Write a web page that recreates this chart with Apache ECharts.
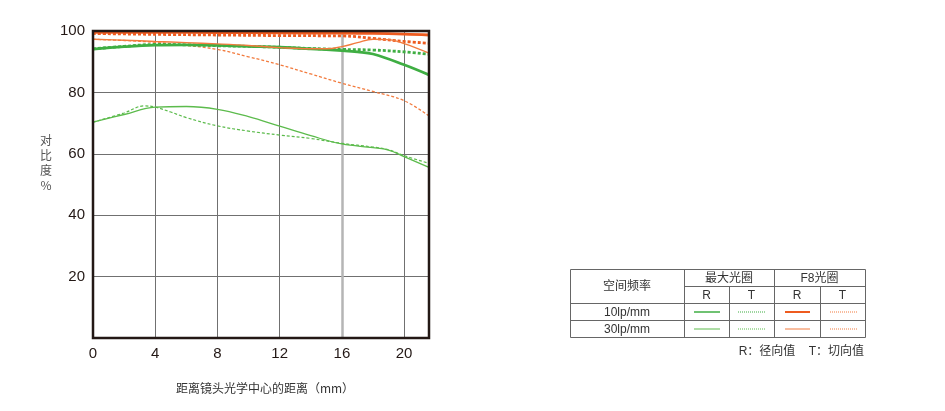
<!DOCTYPE html>
<html><head><meta charset="utf-8">
<script src="https://cdn.jsdelivr.net/npm/echarts@6/dist/echarts.min.js"></script>
<style>html,body{margin:0;padding:0;background:#fff}#c{width:945px;height:411px}</style>
</head><body><div id="c"></div>
<script>
// distance from centre (mm)
const xTicks = [0, 4, 8, 12, 16, 20];
const yTicks = [0, 20, 40, 60, 80, 100];

const xMaxR10 = [0, 2, 4, 6, 8, 10, 12, 14, 16, 17, 18, 20, 21.6];
const maxR10  = [94.1, 94.9, 95.4, 95.5, 95.3, 95.0, 94.7, 94.2, 93.6, 93.2, 92.5, 89.0, 85.7];
const xMaxT10 = [0, 2, 4, 6, 8, 10, 12, 14, 16, 18, 20, 21.6];
const maxT10  = [94.2, 95.0, 95.6, 95.5, 95.2, 95.0, 94.7, 94.3, 94.0, 93.8, 93.2, 92.4];

const xF8R10 = [0, 4, 8, 12, 16, 18, 20, 21.6];
const f8R10  = [99.6, 99.6, 99.5, 99.4, 99.3, 99.2, 99.0, 98.7];
const xF8T10 = [0, 4, 8, 12, 16, 18, 20, 21.6];
const f8T10  = [99.2, 98.9, 98.7, 98.5, 98.4, 97.6, 96.6, 96.0];

const xMaxR30 = [0, 2, 4, 6, 8, 10, 12, 14, 16, 18, 19, 20, 21.6];
const maxR30  = [70.3, 72.8, 75.2, 75.4, 74.5, 72.1, 69.0, 65.9, 63.2, 62.0, 61.2, 59.1, 55.6];
const xMaxT30 = [0, 2, 3.3, 4, 5, 6, 8, 10, 12, 14, 16, 18, 19, 20, 21.6];
const maxT30  = [70.3, 73.3, 75.6, 75.2, 73.6, 71.8, 69.1, 67.4, 66.1, 65.0, 63.4, 62.2, 61.3, 59.4, 56.9];

const xF8R30 = [0, 2, 4, 6, 8, 10, 12, 14, 15, 16, 17, 18, 19, 20, 21.6];
const f8R30  = [97.3, 97.0, 96.6, 96.2, 95.8, 95.3, 94.6, 94.2, 94.2, 94.9, 96.2, 97.3, 97.2, 95.9, 92.8];
const xF8T30 = [0, 2, 4, 6, 8, 10, 12, 14, 16, 18, 20, 21.6];
const f8T30  = [97.3, 96.9, 96.3, 95.3, 94.0, 91.6, 89.0, 86.0, 83.0, 80.3, 77.3, 72.3];

const pairs = (xs, ys) => xs.map((x, i) => [x, ys[i]]);

const GREEN = '#3fae43', GREEN2 = '#5cbb4c', ORANGE = '#ee5b1f', ORANGE2 = '#f27b3e';
const CJK = '"Liberation Sans", "Noto Sans CJK SC", sans-serif';
const LAT = '"Liberation Sans", Arial, sans-serif';

function line(name, data, color, width, type, z) {
  return { name, type: 'line', data, smooth: 0.4, symbol: 'none', z: z || 2,
    lineStyle: { color, width, type }, emphasis: { disabled: true } };
}

// legend table graphics
const T = { l: 570, r: 865, c1: 684, c2: 729, c3: 774, c4: 820, t: 269, h1: 286, h2: 303, h3: 320, b: 337 };
const g = [];
const stroke = '#666';
function L(x1, y1, x2, y2, s, w, dash) {
  g.push({ type: 'line', shape: { x1, y1, x2, y2 }, style: { stroke: s || stroke, lineWidth: w || 1, lineDash: dash || null }, silent: true });
}
function TX(text, x, y, opt) {
  opt = opt || {};
  g.push({ type: 'text', x, y, silent: true, style: { text, fill: opt.fill || '#333', font: opt.font || ('12px ' + CJK),
    textAlign: opt.align || 'center', textVerticalAlign: 'middle', align: opt.align || 'center', verticalAlign: 'middle', lineHeight: opt.lh } });
}
g.push({ type: 'rect', shape: { x: T.l + 0.5, y: T.t + 0.5, width: T.r - T.l, height: T.b - T.t }, style: { fill: 'none', stroke: stroke, lineWidth: 1 }, silent: true });
L(T.c1 + 0.5, T.t, T.c1 + 0.5, T.b + 0.5);
L(T.c3 + 0.5, T.t, T.c3 + 0.5, T.b + 0.5);
L(T.c2 + 0.5, T.h1, T.c2 + 0.5, T.b + 0.5);
L(T.c4 + 0.5, T.h1, T.c4 + 0.5, T.b + 0.5);
L(T.c1, T.h1 + 0.5, T.r, T.h1 + 0.5);
L(T.l, T.h2 + 0.5, T.r, T.h2 + 0.5);
L(T.l, T.h3 + 0.5, T.r, T.h3 + 0.5);
TX('空间频率', (T.l + T.c1) / 2, (T.t + T.h2) / 2 + 1);
TX('最大光圈', (T.c1 + T.c3) / 2, (T.t + T.h1) / 2 + 1);
TX('F8光圈', (T.c3 + T.r) / 2, (T.t + T.h1) / 2 + 1);
TX('R', (T.c1 + T.c2) / 2, (T.h1 + T.h2) / 2 + 1, { font: '12px ' + LAT });
TX('T', (T.c2 + T.c3) / 2, (T.h1 + T.h2) / 2 + 1, { font: '12px ' + LAT });
TX('R', (T.c3 + T.c4) / 2, (T.h1 + T.h2) / 2 + 1, { font: '12px ' + LAT });
TX('T', (T.c4 + T.r) / 2, (T.h1 + T.h2) / 2 + 1, { font: '12px ' + LAT });
TX('10lp/mm', (T.l + T.c1) / 2, (T.h2 + T.h3) / 2 + 1, { font: '12px ' + LAT });
TX('30lp/mm', (T.l + T.c1) / 2, (T.h3 + T.b) / 2 + 1, { font: '12px ' + LAT });
const r1 = (T.h2 + T.h3) / 2 + 0.5, r2 = (T.h3 + T.b) / 2 + 0.5;
L(694, r1, 720, r1, GREEN, 1.5);
L(738, r1, 765, r1, GREEN, 1, [1, 1]);
L(785, r1, 810, r1, ORANGE, 2);
L(830, r1, 857, r1, ORANGE2, 1, [1, 1]);
L(694, r2, 720, r2, GREEN2, 1);
L(738, r2, 765, r2, GREEN2, 1, [1, 1]);
L(785, r2, 810, r2, ORANGE2, 1);
L(830, r2, 857, r2, ORANGE2, 1, [1, 1]);
TX('R：径向值    T：切向值', 864, 352, { align: 'right' });
TX('对\n比\n度\n%', 46, 163, { fill: '#555', lh: 15, font: '12px "Noto Sans CJK SC", sans-serif' });
TX('距离镜头光学中心的距离（mm）', 265, 388, { fill: '#333', font: '12px "Noto Sans CJK SC", sans-serif' });

const chart = echarts.init(document.getElementById('c'), null, { renderer: 'canvas' });
const s0 = line('最大光圈 30lp/mm T', pairs(xMaxT30, maxT30), GREEN2, 1.2, [3, 2]);
s0.markLine = { silent: true, symbol: 'none', label: { show: false }, animation: false,
  lineStyle: { color: '#b5b5b5', width: 2.5, type: 'solid' }, data: [{ xAxis: xTicks[4] }] };
s0.markLine.z = 1;
chart.setOption({
  animation: false,
  backgroundColor: '#fff',
  grid: { left: 93, top: 31, width: 336, height: 307, show: true, borderColor: '#231815', borderWidth: 2.5, backgroundColor: 'transparent', z: 10 },
  xAxis: {
    type: 'value', min: 0, max: 21.6, interval: 4,
    axisLine: { show: false }, axisTick: { show: false },
    axisLabel: { showMaxLabel: false, color: '#231815', fontSize: 15, fontFamily: LAT, margin: 8,
      formatter: v => (xTicks.indexOf(v) >= 0 ? String(v) : '') },
    splitLine: { show: true, lineStyle: { color: '#707070', width: 1 } }
  },
  yAxis: {
    type: 'value', min: 0, max: 100, interval: 20,
    axisLine: { show: false }, axisTick: { show: false },
    axisLabel: { color: '#231815', fontSize: 15, fontFamily: LAT, margin: 8,
      formatter: v => (v === 0 ? '' : (yTicks.indexOf(v) >= 0 ? String(v) : '')) },
    splitLine: { show: true, lineStyle: { color: '#707070', width: 1 } }
  },
  series: [
    s0,
    line('最大光圈 30lp/mm R', pairs(xMaxR30, maxR30), GREEN2, 1.3, 'solid'),
    line('F8 30lp/mm T', pairs(xF8T30, f8T30), ORANGE2, 1.3, [3, 2]),
    line('最大光圈 10lp/mm T', pairs(xMaxT10, maxT10), GREEN, 2.8, [3, 2]),
    line('最大光圈 10lp/mm R', pairs(xMaxR10, maxR10), GREEN, 2.8, 'solid'),
    line('F8 30lp/mm R', pairs(xF8R30, f8R30), ORANGE2, 1.4, 'solid', 3),
    line('F8 10lp/mm T', pairs(xF8T10, f8T10), ORANGE, 2.8, [3, 2]),
    line('F8 10lp/mm R', pairs(xF8R10, f8R10), ORANGE, 2.8, 'solid')
  ],
  graphic: { elements: g }
});
</script></body></html>
